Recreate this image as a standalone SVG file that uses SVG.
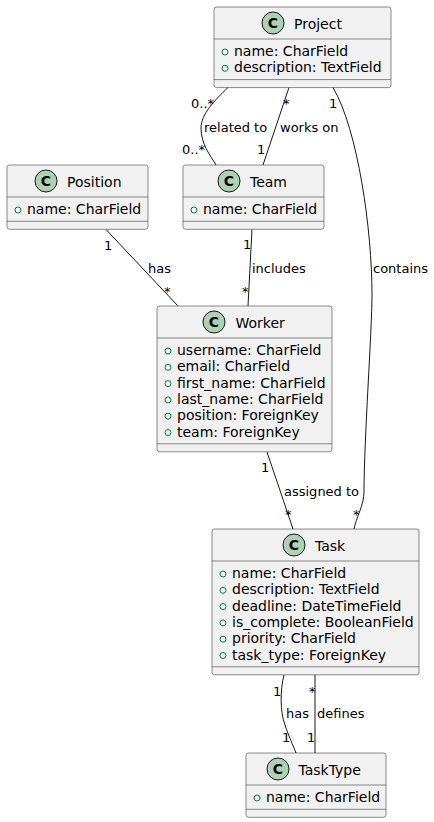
<svg xmlns="http://www.w3.org/2000/svg" width="434" height="822" viewBox="0 0 434 822">
<style>
.box{fill:#F1F1F1;stroke:#181818;stroke-width:0.5}
.sep{stroke:#181818;stroke-width:0.5}
.ci{fill:#ADD1B2;stroke:#181818;stroke-width:1}
.cl{font-family:"DejaVu Sans",sans-serif;font-size:14px;font-weight:bold;fill:#000;text-anchor:middle}
.nm{font-family:"DejaVu Sans",sans-serif;font-size:14px;fill:#000}
.at{font-family:"DejaVu Sans",sans-serif;font-size:14px;fill:#000}
.bu{fill:none;stroke:#038048;stroke-width:1}
.lb{font-family:"DejaVu Sans",sans-serif;font-size:13px;fill:#000}
.ln{fill:none;stroke:#181818;stroke-width:1}
</style>
<rect width="434" height="822" fill="#FFFFFF"/>
<g id="connectors">
<path class="ln" d="M228,87.5 C215,100 201,114 201,128 C201,144 210,155 216,165"/>
<path class="ln" d="M289,87.5 L263,165"/>
<path class="ln" d="M333,87.5 C358,130 372,230 372,295 C372,330 364,440 364,492 C364,505 356,518 354,529"/>
<path class="ln" d="M106,229.5 L178,306"/>
<path class="ln" d="M252,229.5 L248,306"/>
<path class="ln" d="M267,452 L293,529"/>
<path class="ln" d="M284,675 C280,690 280,712 285,725 C289,737 293,745 296,753"/>
<path class="ln" d="M315,675 L315,753"/>
<text class="lb" x="191" y="108">0..*</text>
<text class="lb" x="182" y="154">0..*</text>
<text class="lb" x="204" y="131.5">related to</text>
<text class="lb" x="283" y="108">*</text>
<text class="lb" x="257" y="154">1</text>
<text class="lb" x="280" y="131.5">works on</text>
<text class="lb" x="329" y="108">1</text>
<text class="lb" x="373" y="272.5">contains</text>
<text class="lb" x="353" y="519">*</text>
<text class="lb" x="104" y="250">1</text>
<text class="lb" x="148" y="272.5">has</text>
<text class="lb" x="164" y="296">*</text>
<text class="lb" x="243" y="249">1</text>
<text class="lb" x="252" y="272.5">includes</text>
<text class="lb" x="242" y="296">*</text>
<text class="lb" x="261" y="472">1</text>
<text class="lb" x="284" y="495.5">assigned to</text>
<text class="lb" x="285" y="519">*</text>
<text class="lb" x="273" y="696">1</text>
<text class="lb" x="286" y="717.5">has</text>
<text class="lb" x="282" y="741.5">1</text>
<text class="lb" x="309" y="696">*</text>
<text class="lb" x="317" y="717.5">defines</text>
<text class="lb" x="307" y="741.5">1</text>
</g>
<g id="Project">
<rect class="box" x="214" y="7" width="177" height="80.6" rx="2.5"/>
<line class="sep" x1="214" y1="39" x2="391" y2="39"/>
<line class="sep" x1="214" y1="79.6" x2="391" y2="79.6"/>
<circle class="ci" cx="273" cy="23" r="11"/>
<text class="cl" x="273" y="28">C</text>
<text class="nm" x="294" y="28.5">Project</text>
<circle class="bu" cx="225" cy="52" r="3"/>
<text class="at" x="234" y="56">name: CharField</text>
<circle class="bu" cx="225" cy="68.3" r="3"/>
<text class="at" x="234" y="72.3">description: TextField</text>
</g>
<g id="Position">
<rect class="box" x="7" y="165" width="141" height="64.3" rx="2.5"/>
<line class="sep" x1="7" y1="197" x2="148" y2="197"/>
<line class="sep" x1="7" y1="221.3" x2="148" y2="221.3"/>
<circle class="ci" cx="46" cy="181" r="11"/>
<text class="cl" x="46" y="186">C</text>
<text class="nm" x="67" y="186.5">Position</text>
<circle class="bu" cx="18" cy="210" r="3"/>
<text class="at" x="27" y="214">name: CharField</text>
</g>
<g id="Team">
<rect class="box" x="183" y="165" width="141" height="64.3" rx="2.5"/>
<line class="sep" x1="183" y1="197" x2="324" y2="197"/>
<line class="sep" x1="183" y1="221.3" x2="324" y2="221.3"/>
<circle class="ci" cx="229" cy="181" r="11"/>
<text class="cl" x="229" y="186">C</text>
<text class="nm" x="250" y="186.5">Team</text>
<circle class="bu" cx="194" cy="210" r="3"/>
<text class="at" x="203" y="214">name: CharField</text>
</g>
<g id="Worker">
<rect class="box" x="157" y="306" width="175" height="145.8" rx="2.5"/>
<line class="sep" x1="157" y1="338" x2="332" y2="338"/>
<line class="sep" x1="157" y1="443.8" x2="332" y2="443.8"/>
<circle class="ci" cx="214" cy="322" r="11"/>
<text class="cl" x="214" y="327">C</text>
<text class="nm" x="235.5" y="327.5">Worker</text>
<circle class="bu" cx="168" cy="351" r="3"/>
<text class="at" x="177" y="355">username: CharField</text>
<circle class="bu" cx="168" cy="367.3" r="3"/>
<text class="at" x="177" y="371.3">email: CharField</text>
<circle class="bu" cx="168" cy="383.6" r="3"/>
<text class="at" x="177" y="387.6">first_name: CharField</text>
<circle class="bu" cx="168" cy="399.9" r="3"/>
<text class="at" x="177" y="403.9">last_name: CharField</text>
<circle class="bu" cx="168" cy="416.2" r="3"/>
<text class="at" x="177" y="420.2">position: ForeignKey</text>
<circle class="bu" cx="168" cy="432.5" r="3"/>
<text class="at" x="177" y="436.5">team: ForeignKey</text>
</g>
<g id="Task">
<rect class="box" x="212" y="529" width="207" height="145.8" rx="2.5"/>
<line class="sep" x1="212" y1="561" x2="419" y2="561"/>
<line class="sep" x1="212" y1="666.8" x2="419" y2="666.8"/>
<circle class="ci" cx="294" cy="545" r="11"/>
<text class="cl" x="294" y="550">C</text>
<text class="nm" x="315" y="550.5">Task</text>
<circle class="bu" cx="223" cy="574" r="3"/>
<text class="at" x="232" y="578">name: CharField</text>
<circle class="bu" cx="223" cy="590.3" r="3"/>
<text class="at" x="232" y="594.3">description: TextField</text>
<circle class="bu" cx="223" cy="606.6" r="3"/>
<text class="at" x="232" y="610.6">deadline: DateTimeField</text>
<circle class="bu" cx="223" cy="622.9" r="3"/>
<text class="at" x="232" y="626.9">is_complete: BooleanField</text>
<circle class="bu" cx="223" cy="639.2" r="3"/>
<text class="at" x="232" y="643.2">priority: CharField</text>
<circle class="bu" cx="223" cy="655.5" r="3"/>
<text class="at" x="232" y="659.5">task_type: ForeignKey</text>
</g>
<g id="TaskType">
<rect class="box" x="246" y="753" width="140" height="64.3" rx="2.5"/>
<line class="sep" x1="246" y1="785" x2="386" y2="785"/>
<line class="sep" x1="246" y1="809.3" x2="386" y2="809.3"/>
<circle class="ci" cx="278" cy="769" r="11"/>
<text class="cl" x="278" y="774">C</text>
<text class="nm" x="298.5" y="774.5">TaskType</text>
<circle class="bu" cx="257" cy="798" r="3"/>
<text class="at" x="266" y="802">name: CharField</text>
</g>
</svg>
